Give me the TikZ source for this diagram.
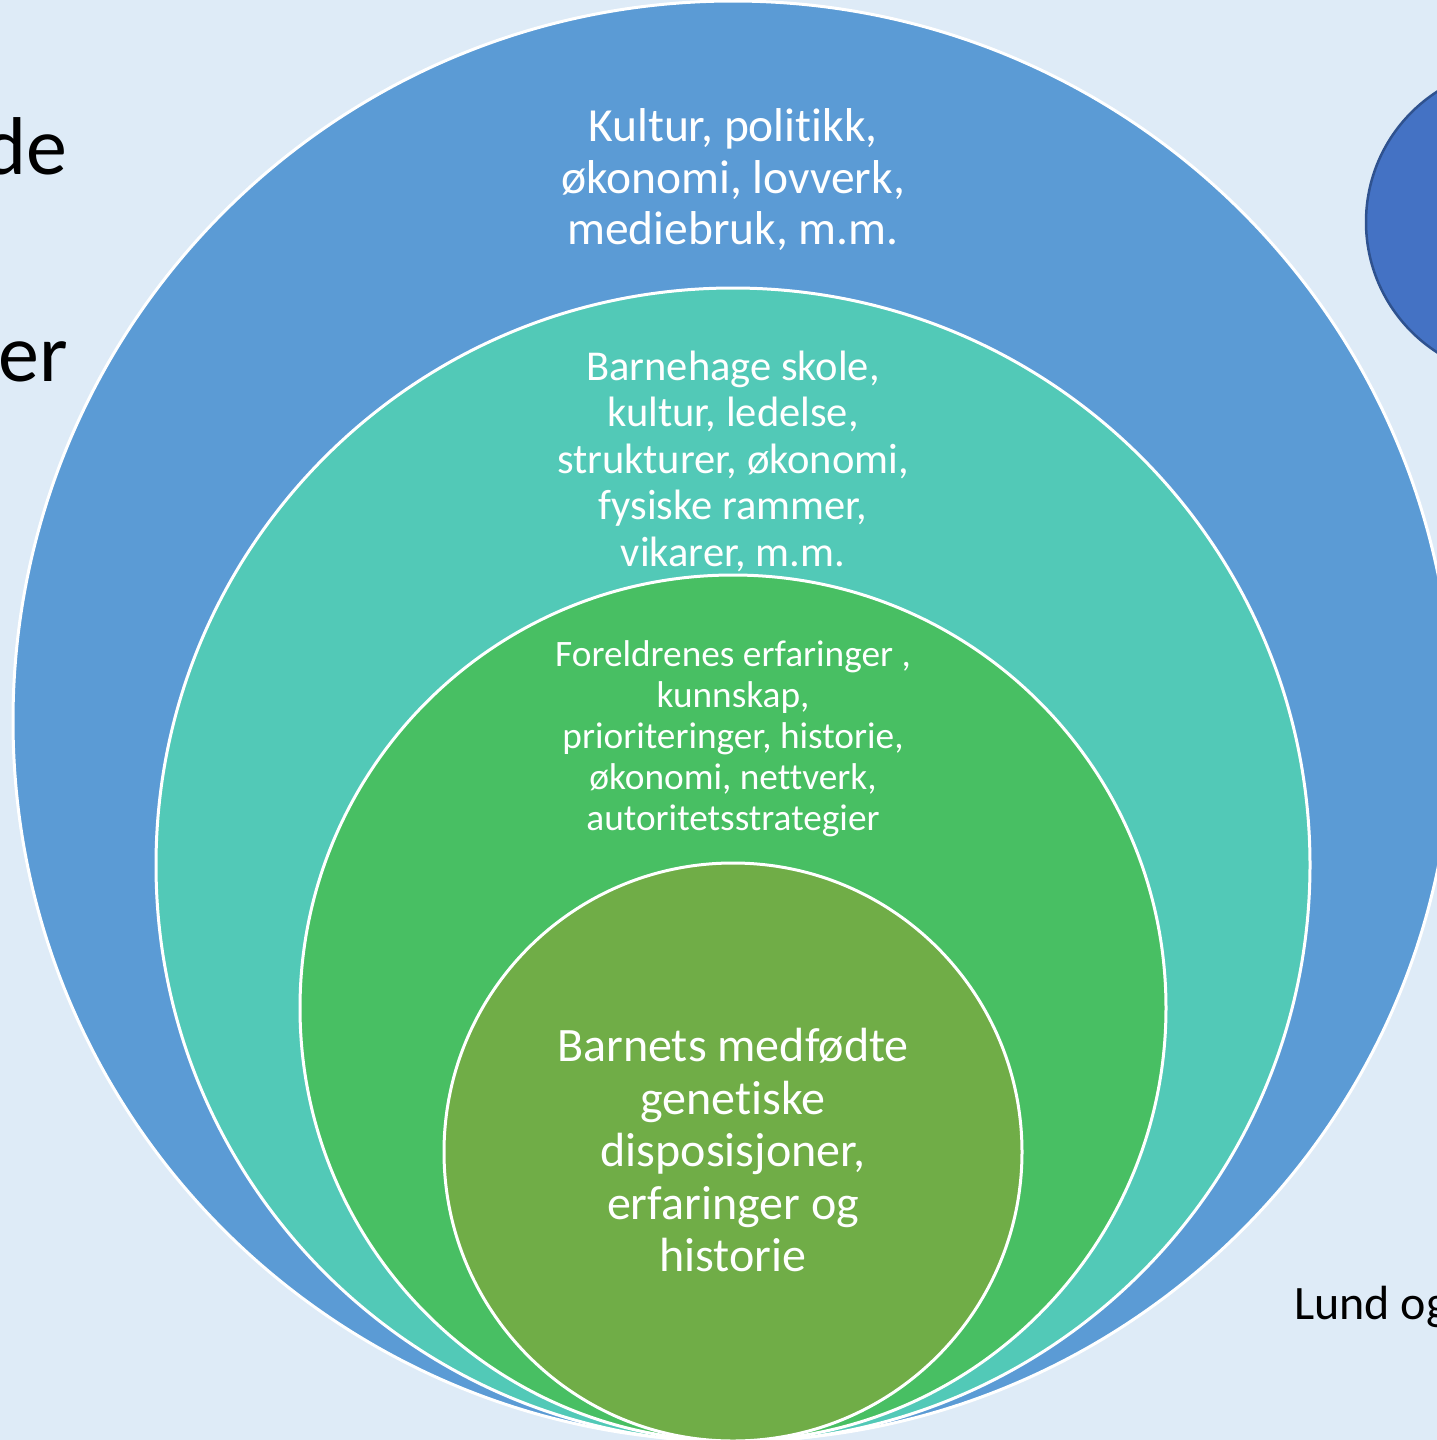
\documentclass[tikz,border=0pt]{standalone}
\usepackage{fontspec}
\setmainfont{Carlito}[Ligatures={NoCommon}]
\definecolor{bgc}{RGB}{222,235,247}
\definecolor{c1}{RGB}{91,155,213}
\definecolor{c2}{RGB}{82,201,183}
\definecolor{c3}{RGB}{72,191,99}
\definecolor{c4}{RGB}{112,173,71}
\definecolor{ell}{RGB}{68,114,196}
\definecolor{elld}{RGB}{47,82,143}
\begin{document}
\begin{tikzpicture}[x=1pt,y=-1pt,
  ring/.style={draw=white,line width=3pt},
  lbl/.style={text=white,align=center,inner sep=0pt}]
\path[use as bounding box,fill=bgc] (0,0) rectangle (1437,1440);
\begin{scope}
\clip (0,0) rectangle (1437,1440);
\fill[ell,draw=elld,line width=2.5pt] (1521,222) circle[radius=155];
\node[ring,fill=c1,circle,minimum size=1440pt,inner sep=0pt] (outer) at (733,721) {};
\node[ring,fill=c2,circle,minimum size=1154pt,inner sep=0pt] (school) at (733,865) {};
\node[ring,fill=c3,circle,minimum size=866pt,inner sep=0pt] (parents) at (733,1008) {};
\node[ring,fill=c4,circle,minimum size=578pt,inner sep=0pt] (child) at (733,1152) {};
\node[anchor=base west,inner sep=0pt,font=\fontsize{82}{96}\selectfont] (de) at (-17,174) {de};
\node[anchor=base west,inner sep=0pt,font=\fontsize{82}{96}\selectfont] (er) at (-2,381) {er};
\node[anchor=base west,inner sep=0pt,font=\fontsize{48}{56}\selectfont] (lund) at (1294,1319) {Lund og};
\end{scope}
\node[lbl,font=\fontsize{47.5}{51.5}\selectfont] (t1) at (733,180) {Kultur, politikk,\\økonomi, lovverk,\\mediebruk, m.m.};
\node[lbl,font=\fontsize{42.5}{46.5}\selectfont] (t2) at (733,461) {Barnehage skole,\\kultur, ledelse,\\strukturer, økonomi,\\fysiske rammer,\\vikarer, m.m.};
\node[lbl,font=\fontsize{37.3}{41}\selectfont] (t3) at (733,739) {Foreldrenes erfaringer ,\\kunnskap,\\prioriteringer, historie,\\økonomi, nettverk,\\autoritetsstrategier};
\node[lbl,font=\fontsize{48}{52.5}\selectfont] (t4) at (733,1150) {Barnets medfødte\\genetiske\\disposisjoner,\\erfaringer og\\historie};
\end{tikzpicture}
\end{document}
